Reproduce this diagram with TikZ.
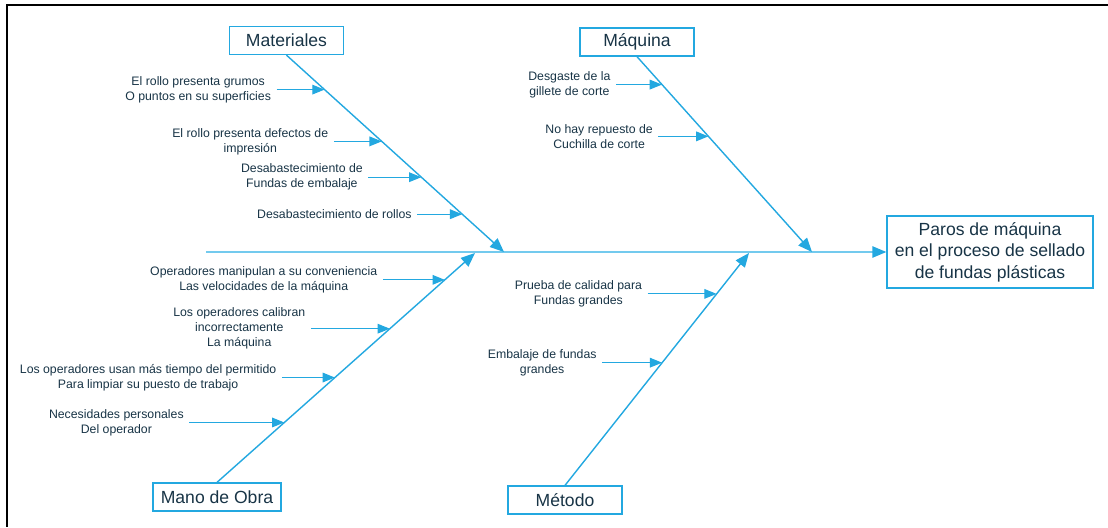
\documentclass[tikz,border=0pt]{standalone}
\usepackage{fontspec}
\setmainfont{Liberation Sans}
\usetikzlibrary{calc,arrows.meta}

\newlength{\du}
\setlength{\du}{0.02cm}

\definecolor{bonecolor}{RGB}{35,168,224}
\definecolor{spinecolor}{RGB}{115,202,238}
\definecolor{labelcolor}{RGB}{24,52,70}

\tikzset{
  catbox/.style={draw=bonecolor, line width=0.75pt, fill=white, text=labelcolor,
    font=\fontsize{10}{12}\selectfont, minimum width=114\du, minimum height=28\du, inner sep=0pt},
  effectbox/.style={catbox, align=center, minimum width=206\du, minimum height=72\du,
    font=\fontsize{10}{12.2}\selectfont},
  cause/.style={text=labelcolor, font=\fontsize{7}{8.5}\selectfont, align=center,
    inner sep=3pt, anchor=east},
  bone/.style={draw=bonecolor, line width=0.8pt,
    -{Stealth[length=8pt,width=6.5pt,inset=0pt,color=bonecolor]}},
  twig/.style={draw=bonecolor, line width=0.65pt,
    -{Stealth[length=7pt,width=5.5pt,inset=0pt]}},
  spine/.style={bone, draw=spinecolor}
}

\begin{document}
\begin{tikzpicture}
\pgftransformxscale{1.000000}
\pgftransformyscale{-1.000000}
\useasboundingbox (0\du,0\du) rectangle (1108\du,527\du);
% frame
\draw[line width=1.2pt] (1108\du,5\du) -- (7\du,5\du) -- (7\du,527\du);

% effect and categories
\node[effectbox] (effect) at (990\du,252\du) {Paros de máquina\\en el proceso de sellado\\de fundas plásticas};
\node[catbox] (mat) at (286.5\du,40.5\du) {Materiales};
\node[catbox] (maq) at (637\du,42\du) {Máquina};
\node[catbox, minimum width=128\du] (mano) at (217\du,497\du) {Mano de Obra};
\node[catbox] (metodo) at (565\du,500\du) {Método};

\coordinate (spineStart) at (206\du,252\du);
\coordinate (matTip) at (504\du,252\du);
\coordinate (maqTip) at (812\du,252\du);
\coordinate (manoTip) at (475\du,253\du);
\coordinate (metodoTip) at (749\du,253\du);

\draw[spine] (spineStart) -- (effect.west);
\draw[bone] (mat.south) -- (matTip);
\draw[bone] (maq.south) -- (maqTip);
\draw[bone] (mano.north) -- (manoTip);
\draw[bone] (metodo.north) -- (metodoTip);

% Materiales
\coordinate (mat1) at ($(mat.south)!0.175!(matTip)$);
\coordinate (mat2) at ($(mat.south)!0.438!(matTip)$);
\coordinate (mat3) at ($(mat.south)!0.620!(matTip)$);
\coordinate (mat4) at ($(mat.south)!0.808!(matTip)$);
\node[cause] (matA) at ($(mat1)+(-48\du,0)$) {El rollo presenta grumos\\O puntos en su superficies};
\node[cause] (matB) at ($(mat2)+(-48\du,0)$) {El rollo presenta defectos de\\impresión};
\node[cause] (matC) at ($(mat3)+(-53\du,0)$) {Desabastecimiento de\\Fundas de embalaje};
\node[cause] (matD) at ($(mat4)+(-45\du,0)$) {Desabastecimiento de rollos};
\draw[twig] (matA.east) -- (mat1);
\draw[twig] (matB.east) -- (mat2);
\draw[twig] (matC.east) -- (mat3);
\draw[twig] (matD.east) -- (mat4);

% Maquina
\coordinate (maq1) at ($(maq.south)!0.143!(maqTip)$);
\coordinate (maq2) at ($(maq.south)!0.408!(maqTip)$);
\node[cause] (maqA) at ($(maq1)+(-46\du,0)$) {Desgaste de la\\gillete de corte};
\node[cause] (maqB) at ($(maq2)+(-50\du,0)$) {No hay repuesto de\\Cuchilla de corte};
\draw[twig] (maqA.east) -- (maq1);
\draw[twig] (maqB.east) -- (maq2);

% Mano de Obra
\coordinate (mano1) at ($(mano.north)!0.883!(manoTip)$);
\coordinate (mano2) at ($(mano.north)!0.670!(manoTip)$);
\coordinate (mano3) at ($(mano.north)!0.457!(manoTip)$);
\coordinate (mano4) at ($(mano.north)!0.261!(manoTip)$);
\node[cause] (manoA) at ($(mano1)+(-62\du,0)$) {Operadores manipulan a su conveniencia\\Las velocidades de la máquina};
\node[cause] (manoB) at ($(mano2)+(-79\du,0)$) {Los operadores calibran\\incorrectamente\\La máquina};
\node[cause] (manoC) at ($(mano3)+(-53\du,0)$) {Los operadores usan más tiempo del permitido\\Para limpiar su puesto de trabajo};
\node[cause] (manoD) at ($(mano4)+(-95\du,0)$) {Necesidades personales\\Del operador};
\draw[twig] (manoA.east) -- (mano1);
\draw[twig] (manoB.east) -- (mano2);
\draw[twig] (manoC.east) -- (mano3);
\draw[twig] (manoD.east) -- (mano4);

% Metodo
\coordinate (metodo1) at ($(metodo.north)!0.824!(metodoTip)$);
\coordinate (metodo2) at ($(metodo.north)!0.528!(metodoTip)$);
\node[cause] (metodoA) at ($(metodo1)+(-69\du,0)$) {Prueba de calidad para\\Fundas grandes};
\node[cause] (metodoB) at ($(metodo2)+(-60\du,0)$) {Embalaje de fundas\\grandes};
\draw[twig] (metodoA.east) -- (metodo1);
\draw[twig] (metodoB.east) -- (metodo2);
\end{tikzpicture}
\end{document}
